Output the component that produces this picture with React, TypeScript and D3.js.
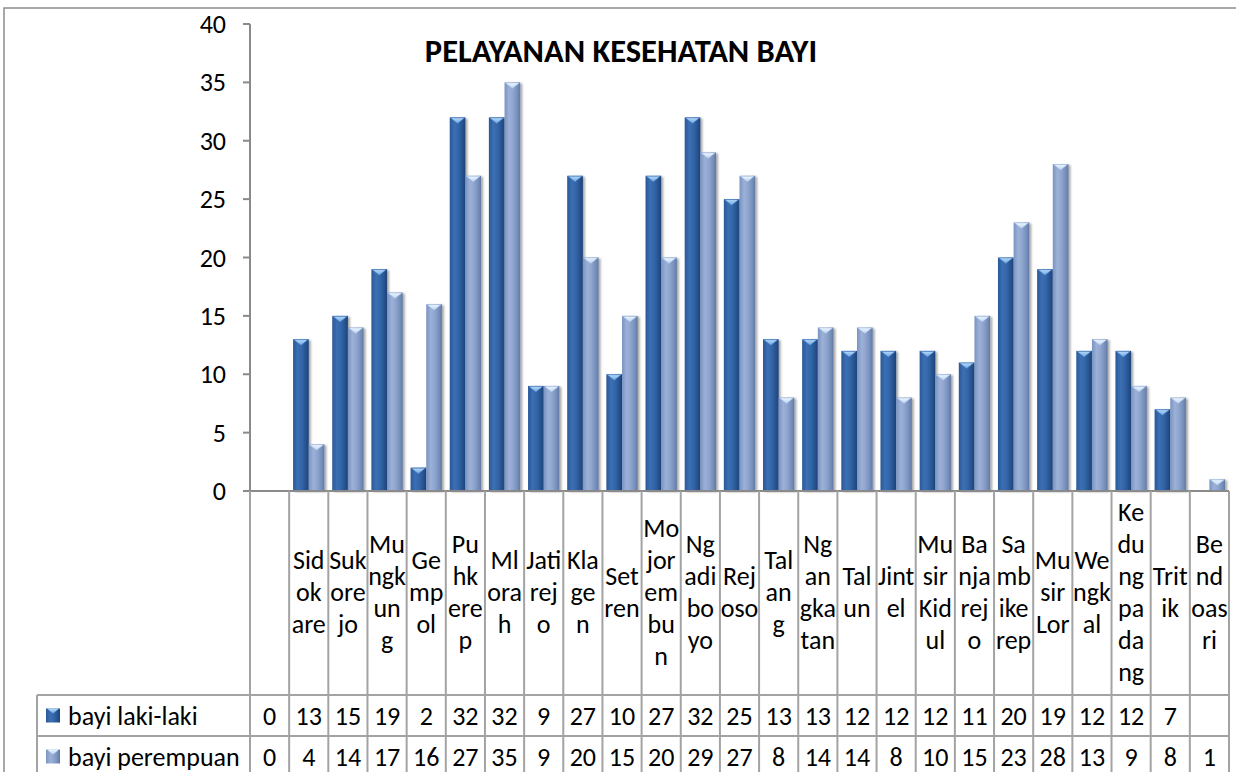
import React from "react";
import * as d3 from "d3";

const title = "PELAYANAN KESEHATAN BAYI";
const categories = ["", "Sidokare", "Sukorejo", "Mungkung", "Gempol", "Puhkerep", "Mlorah", "Jatirejo", "Klagen", "Setren", "Mojorembun", "Ngadiboyo", "Rejoso", "Talang", "Ngangkatan", "Talun", "Jintel", "Musir Kidul", "Banjarejo", "Sambikerep", "Musir Lor", "Wengkal", "Kedungpadang", "Tritik", "Bendoasri"];
const categoryLines = [[], ["Sid", "ok", "are"], ["Suk", "ore", "jo"], ["Mu", "ngk", "un", "g"], ["Ge", "mp", "ol"], ["Pu", "hk", "ere", "p"], ["Ml", "ora", "h"], ["Jati", "rej", "o"], ["Kla", "ge", "n"], ["Set", "ren"], ["Mo", "jor", "em", "bu", "n"], ["Ng", "adi", "bo", "yo"], ["Rej", "oso"], ["Tal", "an", "g"], ["Ng", "an", "gka", "tan"], ["Tal", "un"], ["Jint", "el"], ["Mu", "sir", "Kid", "ul"], ["Ba", "nja", "rej", "o"], ["Sa", "mb", "ike", "rep"], ["Mu", "sir", "Lor"], ["We", "ngk", "al"], ["Ke", "du", "ng", "pa", "da", "ng"], ["Trit", "ik"], ["Be", "nd", "oas", "ri"]];
const seriesNames = ["bayi laki-laki", "bayi perempuan"];
const lakiLaki: (number | null)[] = [0, 13, 15, 19, 2, 32, 32, 9, 27, 10, 27, 32, 25, 13, 13, 12, 12, 12, 11, 20, 19, 12, 12, 7, null];
const perempuan: (number | null)[] = [0, 4, 14, 17, 16, 27, 35, 9, 20, 15, 20, 29, 27, 8, 14, 14, 8, 10, 15, 23, 28, 13, 9, 8, 1];
const yTicks = [0, 5, 10, 15, 20, 25, 30, 35, 40];

const FONT = "Carlito, Calibri, Lato, sans-serif";
const GRID = "#a3a3a3";
const FS = 26;

export default function App() {
  const left = 250, right = 1229, top = 24, zero = 491;
  const headerBottom = 695, row1Bottom = 736, row2Bottom = 777;
  const legendLeft = 37;
  const seriesValues = [lakiLaki, perempuan];

  const x0 = d3.scaleBand<number>().domain(categories.map((_, i) => i)).range([left, right]).padding(0);
  const x1 = d3.scaleBand<number>().domain([0, 1]).range([0, x0.bandwidth()]).paddingInner(0).paddingOuter(0.25);
  const y = d3.scaleLinear().domain([0, 40]).range([zero, top]);

  const gradIds = ["gDark", "gLight"];
  const capIds = ["cDark", "cLight"];
  const lineH = 32;
  const headerMid = (zero + headerBottom) / 2 - 1;

  return (
    <svg width={1236} height={772} style={{ position: "absolute", left: 0, top: 0, background: "#fff" }} fontFamily={FONT}>
      <defs>
        <linearGradient id="gDark" x1="0" x2="1" y1="0" y2="0">
          <stop offset="0" stopColor="#2a5897" />
          <stop offset="0.3" stopColor="#3b6fb4" />
          <stop offset="0.55" stopColor="#3466a8" />
          <stop offset="0.85" stopColor="#25508c" />
          <stop offset="1" stopColor="#1c4278" />
        </linearGradient>
        <linearGradient id="gLight" x1="0" x2="1" y1="0" y2="0">
          <stop offset="0" stopColor="#7a93c0" />
          <stop offset="0.3" stopColor="#9cb1d8" />
          <stop offset="0.55" stopColor="#8ea5ce" />
          <stop offset="0.85" stopColor="#738cb8" />
          <stop offset="1" stopColor="#5f78a3" />
        </linearGradient>
        <linearGradient id="cDark" x1="0" x2="0" y1="0" y2="1">
          <stop offset="0" stopColor="#b5d8fa" />
          <stop offset="1" stopColor="#6fa6e4" />
        </linearGradient>
        <linearGradient id="cLight" x1="0" x2="0" y1="0" y2="1">
          <stop offset="0" stopColor="#eef6ff" />
          <stop offset="1" stopColor="#b9d3f2" />
        </linearGradient>
        <filter id="shadow" x="-30%" y="-5%" width="160%" height="110%">
          <feDropShadow dx="2" dy="1" stdDeviation="1.3" floodColor="#000" floodOpacity="0.35" />
        </filter>
      </defs>

      {/* outer border */}
      <rect x={4} y={8} width={1240} height={800} fill="none" stroke="#8c8c8c" strokeWidth={1.5} />

      {/* title */}
      <text x={621} y={62} textAnchor="middle" fontSize={32.5} fontWeight="bold" fill="#000">{title}</text>

      {/* y axis */}
      <line x1={left} x2={left} y1={top} y2={zero} stroke="#8a8a8a" strokeWidth={2} />
      {yTicks.map((t) => (
        <g key={t}>
          <line x1={left - 7} x2={left} y1={y(t)} y2={y(t)} stroke="#8a8a8a" strokeWidth={2} />
          <text x={226} y={y(t)} dy="0.35em" textAnchor="end" fontSize={FS} fill="#000">{t}</text>
        </g>
      ))}

      {/* bars */}
      {categories.map((_, i) =>
        seriesValues.map((vals, s) => {
          const v = vals[i];
          if (v === null || v <= 0) return null;
          const bx = (x0(i) as number) + (x1(s) as number);
          const bw = x1.bandwidth();
          const by = y(v);
          return (
            <g key={`${i}-${s}`}>
              <rect x={bx} y={by} width={bw} height={zero - by} fill={`url(#${gradIds[s]})`} filter="url(#shadow)" />
              <polygon points={`${bx + 1},${by + 0.5} ${bx + bw - 1},${by + 0.5} ${bx + bw / 2},${by + 6}`} fill={`url(#${capIds[s]})`} stroke={s === 0 ? "#4f86c8" : "#a9c1e4"} strokeWidth={0.6} />
            </g>
          );
        })
      )}

      {/* zero line */}
      <line x1={left - 7} x2={right} y1={zero} y2={zero} stroke="#8a8a8a" strokeWidth={2} />

      {/* table grid */}
      {categories.map((_, i) => (
        <line key={`v${i}`} x1={x0(i) as number} x2={x0(i) as number} y1={zero} y2={772} stroke={GRID} strokeWidth={2} />
      ))}
      <line x1={right} x2={right} y1={zero} y2={772} stroke={GRID} strokeWidth={2} />
      <line x1={legendLeft} x2={right} y1={headerBottom} y2={headerBottom} stroke={GRID} strokeWidth={2} />
      <line x1={legendLeft} x2={right} y1={row1Bottom} y2={row1Bottom} stroke={GRID} strokeWidth={2} />
      <line x1={legendLeft} x2={right} y1={row2Bottom} y2={row2Bottom} stroke={GRID} strokeWidth={2} />
      <line x1={legendLeft} x2={legendLeft} y1={headerBottom} y2={772} stroke={GRID} strokeWidth={2} />

      {/* category labels */}
      {categoryLines.map((lines, i) => {
        const cx = (x0(i) as number) + x0.bandwidth() / 2;
        const start = headerMid - ((lines.length - 1) * lineH) / 2;
        return (
          <text key={`c${i}`} textAnchor="middle" fontSize={FS} fill="#000">
            {lines.map((ln, k) => (
              <tspan key={k} x={cx} y={start + k * lineH} dy="0.35em">{ln}</tspan>
            ))}
          </text>
        );
      })}

      {/* legend rows and values */}
      {seriesNames.map((name, s) => {
        const rowTop = s === 0 ? headerBottom : row1Bottom;
        const rowBot = s === 0 ? row1Bottom : row2Bottom;
        const cy = (rowTop + rowBot) / 2;
        return (
          <g key={name}>
            <rect x={46} y={cy - 7} width={14} height={14} fill={`url(#${gradIds[s]})`} />
            <polygon points={`${47},${cy - 7} ${59},${cy - 7} ${53},${cy - 2}`} fill={`url(#${capIds[s]})`} />
            <text x={68} y={cy} dy="0.35em" fontSize={FS} fill="#000">{name}</text>
            {seriesValues[s].map((v, i) =>
              v === null ? null : (
                <text key={i} x={(x0(i) as number) + x0.bandwidth() / 2} y={cy} dy="0.35em" textAnchor="middle" fontSize={FS} fill="#000">{v}</text>
              )
            )}
          </g>
        );
      })}
    </svg>
  );
}
